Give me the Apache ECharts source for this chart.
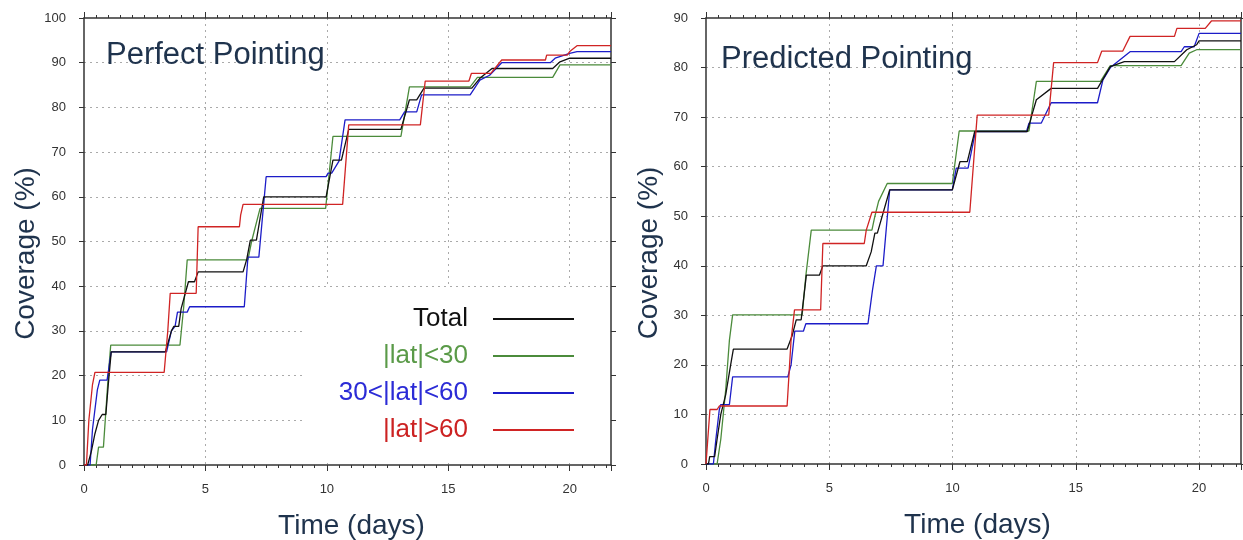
<!DOCTYPE html>
<html>
<head>
<meta charset="utf-8">
<script src="https://cdn.jsdelivr.net/npm/echarts@6/dist/echarts.min.js"></script>
<style>
    html, body { margin: 0; background: #fff; }
    #chart { width: 1243px; height: 540px; }
</style>
</head>
<body>
<div id="chart"></div>
<script>
// series values as [time (days), coverage (%)]
const perfectTotal = [[0, 0], [0.15, 0], [0.3, 3], [0.45, 7], [0.6, 10], [0.75, 11.3], [0.9, 11.3], [1.0, 18], [1.12, 25.3], [3.35, 25.3], [3.6, 30], [3.7, 31], [3.9, 31], [4.0, 35], [4.3, 41], [4.55, 41], [4.7, 43.2], [6.55, 43.2], [6.7, 46], [6.85, 50.3], [7.1, 50.3], [7.4, 60], [9.97, 60], [10.25, 68.2], [10.6, 68.2], [10.9, 75.1], [13.05, 75.1], [13.4, 81.7], [13.7, 81.7], [14.0, 84.3], [15.97, 84.3], [16.3, 86.5], [16.8, 88.7], [19.3, 88.7], [19.6, 90.2], [20.0, 91.0], [21.7, 91.0]]
const perfectLow = [[0, 0], [0.5, 0], [0.6, 4], [0.8, 4], [0.9, 12], [1.0, 20], [1.1, 26.8], [3.95, 26.8], [4.1, 35], [4.25, 45.9], [6.75, 45.9], [6.9, 50], [7.25, 57.4], [9.95, 57.4], [10.25, 73.5], [13.05, 73.5], [13.4, 84.6], [15.9, 84.6], [16.2, 86.7], [19.3, 86.7], [19.6, 89.5], [21.7, 89.5]]
const perfectMid = [[0, 0], [0.25, 0], [0.35, 8], [0.55, 16.8], [0.65, 19], [0.95, 19], [1.12, 25.3], [3.4, 25.3], [3.6, 30], [3.75, 31], [3.85, 34.2], [4.25, 34.2], [4.35, 35.4], [6.6, 35.4], [6.75, 46.5], [7.2, 46.5], [7.5, 64.5], [9.97, 64.5], [10.05, 65.3], [10.2, 65.3], [10.5, 68], [10.75, 77.2], [13.0, 77.2], [13.2, 79], [13.7, 79], [13.9, 82.8], [15.9, 82.8], [16.3, 86.1], [16.7, 87.2], [17.2, 90], [19.2, 90], [19.4, 91], [20.0, 92.1], [20.3, 92.5], [21.7, 92.5]]
const perfectHigh = [[0, 0], [0.1, 0], [0.2, 10], [0.35, 18], [0.45, 20.7], [3.3, 20.7], [3.45, 30], [3.55, 38.4], [4.62, 38.4], [4.7, 53.3], [6.4, 53.3], [6.45, 55.9], [6.55, 58.3], [10.65, 58.3], [10.9, 76.1], [13.85, 76.1], [14.05, 85.9], [15.85, 85.9], [15.95, 87.6], [16.75, 87.6], [17.2, 90.6], [19.0, 90.6], [19.05, 91.7], [19.9, 91.7], [20.0, 92.5], [20.3, 93.8], [21.7, 93.8]]

const predictedTotal = [[0, 0], [0.1, 0], [0.15, 1.5], [0.35, 1.5], [0.45, 5], [0.6, 10], [0.8, 14], [1.0, 20], [1.11, 23.2], [3.29, 23.2], [3.5, 26], [3.66, 29.1], [3.86, 29.1], [4.07, 38.1], [4.6, 38.1], [4.74, 40.0], [6.5, 40.0], [6.7, 42.8], [6.85, 46.6], [6.95, 46.6], [7.45, 55.3], [9.99, 55.3], [10.3, 61], [10.6, 61], [10.9, 67.1], [13.03, 67.1], [13.2, 70.1], [13.4, 73.5], [14.0, 75.8], [15.88, 75.8], [16.4, 80.2], [16.97, 81.2], [19.0, 81.2], [19.5, 83.6], [19.9, 84.6], [20.0, 85.4], [21.7, 85.4]]
const predictedLow = [[0, 0], [0.45, 0], [0.6, 5], [0.8, 15], [0.95, 25], [1.08, 30.1], [3.9, 30.1], [4.05, 38], [4.27, 47.2], [6.73, 47.2], [6.85, 50], [7.0, 53], [7.35, 56.6], [9.99, 56.6], [10.27, 67.2], [13.1, 67.2], [13.4, 77.2], [16.0, 77.2], [16.4, 80.4], [19.27, 80.4], [19.6, 82.9], [19.9, 83.6], [21.7, 83.6]]
const predictedMid = [[0, 0], [0.3, 0], [0.4, 5], [0.54, 11], [0.6, 12], [0.95, 12], [1.08, 17.6], [3.32, 17.6], [3.45, 20], [3.6, 26.8], [3.95, 26.8], [4.05, 28.3], [6.57, 28.3], [6.75, 35], [6.91, 40.0], [7.18, 40.0], [7.45, 55.3], [9.99, 55.3], [10.15, 59.7], [10.63, 59.7], [10.93, 67.1], [13.0, 67.1], [13.1, 68.8], [13.6, 68.8], [14.0, 72.9], [15.88, 72.9], [16.1, 77.5], [16.4, 80], [17.2, 83.2], [19.27, 83.2], [19.4, 84.2], [19.8, 84.2], [20.0, 86.9], [21.7, 86.9]]
const predictedHigh = [[0, 0], [0.07, 0], [0.16, 11.0], [0.45, 11.0], [0.54, 11.7], [3.29, 11.7], [3.45, 25], [3.59, 31.1], [4.65, 31.1], [4.74, 44.5], [6.42, 44.5], [6.5, 47.2], [6.73, 50.8], [10.7, 50.8], [11.0, 70.4], [13.9, 70.4], [14.1, 81.0], [15.88, 81.0], [16.05, 83.3], [16.9, 83.3], [17.2, 86.3], [19.0, 86.3], [19.1, 87.9], [20.25, 87.9], [20.5, 89.4], [21.7, 89.4]]

const seriesNames = ['Total', '|lat|<30', '30<|lat|<60', '|lat|>60']
const panelTitles = ['Perfect Pointing', 'Predicted Pointing']
const yMax = [100, 90]
const xMax = 21.7

const FONT = '"Liberation Sans", Arial, Helvetica, sans-serif'
const NAVY = '#1f334d'
const AXIS = '#333'
const lineColors = ['#111111', '#4b8b3b', '#1c1cc8', '#d02424']
const legendColors = ['#111111', '#5a9a48', '#2b2bd6', '#cc2222']

const chart = echarts.init(document.getElementById('chart'), null, { renderer: 'canvas' })

const tickStyle = { color: AXIS, width: 1 }
const gridLine = { color: '#aaa', width: 1, type: [2, 4] }

const xAxis = []
const yAxis = []
;[0, 1].forEach(g => {
    // bottom axis with labels
    xAxis.push({
        type: 'value', gridIndex: g, position: 'bottom', min: 0, max: xMax, interval: 5,
        axisLine: { show: true, onZero: false, lineStyle: { color: AXIS, width: 1.5 } },
        axisTick: { show: true, length: 6, lineStyle: tickStyle },
        minorTick: { show: true, splitNumber: 10, length: 3, lineStyle: tickStyle },
        axisLabel: { margin: 18, fontSize: 13, color: AXIS, fontFamily: FONT, showMaxLabel: false },
        splitLine: { show: true, showMinLine: false, showMaxLine: false, lineStyle: gridLine },
        name: 'Time (days)', nameLocation: 'middle', nameGap: 47,
        nameTextStyle: { fontSize: 28, color: NAVY, fontFamily: FONT, padding: [0, 0, 0, 8] }
    })
    // top frame
    xAxis.push({
        type: 'value', gridIndex: g, position: 'top', min: 0, max: xMax, interval: 5,
        axisLine: { show: true, onZero: false, lineStyle: { color: AXIS, width: 1.5 } },
        axisTick: { show: true, length: 6, lineStyle: tickStyle },
        minorTick: { show: true, splitNumber: 10, length: 3, lineStyle: tickStyle },
        axisLabel: { show: false },
        splitLine: { show: false }
    })
    yAxis.push({
        type: 'value', gridIndex: g, position: 'left', min: 0, max: yMax[g], interval: 10,
        axisLine: { show: true, onZero: false, lineStyle: { color: AXIS, width: 1.5 } },
        axisTick: { show: true, length: 5, lineStyle: tickStyle },
        axisLabel: { margin: 18, fontSize: 13, color: AXIS, fontFamily: FONT },
        splitLine: { show: true, showMinLine: false, showMaxLine: false, lineStyle: gridLine },
        name: 'Coverage (%)', nameLocation: 'middle', nameGap: 43,
        nameTextStyle: { fontSize: 28, color: NAVY, fontFamily: FONT, padding: [0, 24, 0, 0] }
    })
    // right frame
    yAxis.push({
        type: 'value', gridIndex: g, position: 'right', min: 0, max: yMax[g], interval: 10,
        axisLine: { show: true, onZero: false, lineStyle: { color: AXIS, width: 1.5 } },
        axisTick: { show: true, length: 5, lineStyle: tickStyle },
        axisLabel: { show: false },
        splitLine: { show: false }
    })
})

const panels = [
    [perfectTotal, perfectLow, perfectMid, perfectHigh],
    [predictedTotal, predictedLow, predictedMid, predictedHigh]
]
const series = []
panels.forEach((list, g) => {
    list.forEach((data, i) => {
        series.push({
            name: seriesNames[i],
            type: 'line',
            xAxisIndex: g * 2,
            yAxisIndex: g * 2,
            data: data,
            symbol: 'none',
            lineStyle: { color: lineColors[i], width: 1.3 },
            itemStyle: { color: lineColors[i] },
            z: 2 + (i === 0 ? 3 : i)
        })
    })
})

const option = {
    animation: false,
    backgroundColor: '#fff',
    grid: [
        { left: 84, top: 18, width: 527, height: 447, outerBoundsMode: 'none', containLabel: false },
        { left: 706, top: 18, width: 535, height: 446, outerBoundsMode: 'none', containLabel: false }
    ],
    title: [
        { text: panelTitles[0], left: 101, top: 35, textStyle: { fontSize: 31, fontWeight: 'normal', color: NAVY, fontFamily: FONT } },
        { text: panelTitles[1], left: 716, top: 39, textStyle: { fontSize: 31, fontWeight: 'normal', color: NAVY, fontFamily: FONT } }
    ],
    legend: {
        orient: 'vertical',
        left: 303,
        top: 288,
        padding: [16, 36, 18, 25],
        backgroundColor: '#fff',
        align: 'right',
        itemGap: 7,
        itemWidth: 81,
        itemHeight: 2,
        icon: 'rect',
        selectedMode: false,
        textStyle: { fontSize: 26, fontFamily: FONT, width: 140, lineHeight: 30, padding: [0, 20, 0, 0] },
        data: seriesNames.map((n, i) => ({ name: n, textStyle: { color: legendColors[i] } }))
    },
    xAxis: xAxis,
    yAxis: yAxis,
    series: series
}

chart.setOption(option)
</script>
</body>
</html>
